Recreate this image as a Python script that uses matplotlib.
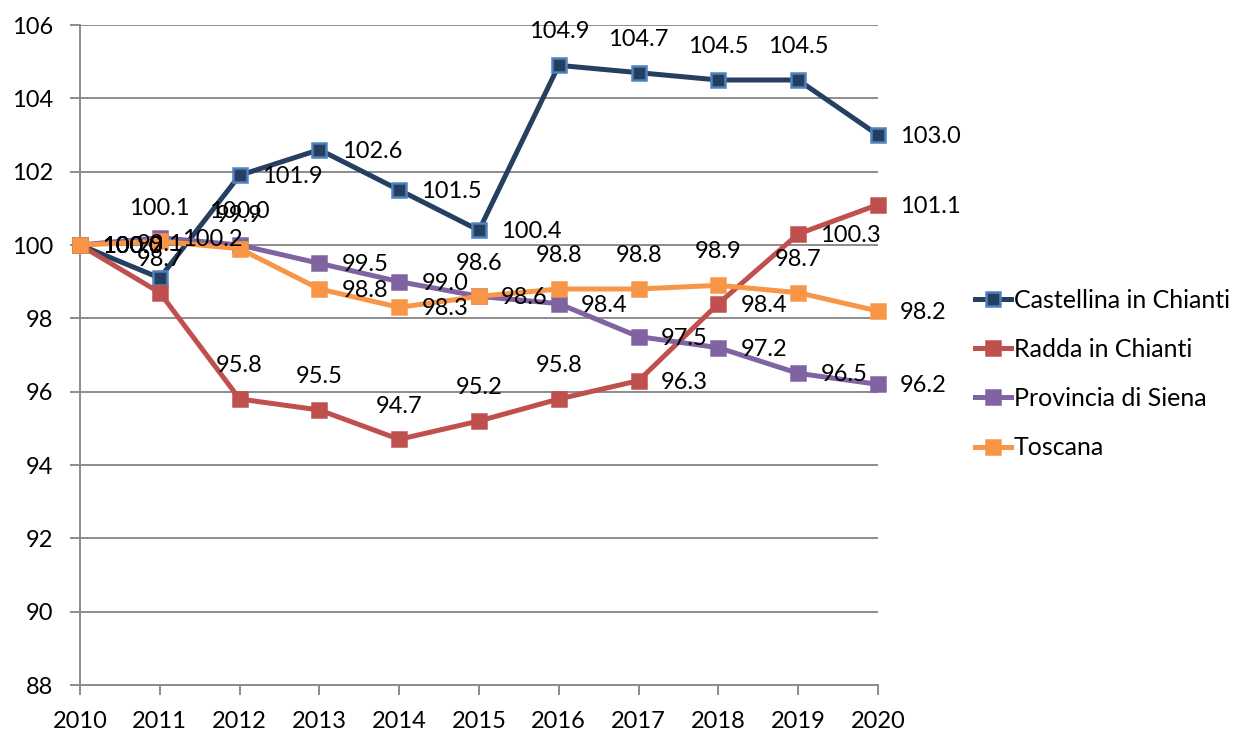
import matplotlib
matplotlib.use("Agg")
import matplotlib.pyplot as plt

plt.rcParams['font.family'] = ['Lato', 'DejaVu Sans']

years = list(range(2010, 2021))
castellina = [100.0, 99.1, 101.9, 102.6, 101.5, 100.4, 104.9, 104.7, 104.5, 104.5, 103.0]
radda = [100.0, 98.7, 95.8, 95.5, 94.7, 95.2, 95.8, 96.3, 98.4, 100.3, 101.1]
provincia = [100.0, 100.2, 100.0, 99.5, 99.0, 98.6, 98.4, 97.5, 97.2, 96.5, 96.2]
toscana = [100.0, 100.1, 99.9, 98.8, 98.3, 98.6, 98.8, 98.8, 98.9, 98.7, 98.2]
names = ["Castellina in Chianti", "Radda in Chianti", "Provincia di Siena", "Toscana"]

# where each value label goes: r = right of the point, a = above it
place = [
    "rarrrraaaar",
    "raaaaaarrrr",
    "rrarrrrrrrr",
    "raarraaaaar",
]

line_col = ["#243f60", "#c0504d", "#8064a2", "#f79646"]
face_col = ["#243f60", "#c0504d", "#8064a2", "#f79646"]
edge_col = ["#4f81bd", "#c0504d", "#8064a2", "#f79646"]

fig = plt.figure(figsize=(12.4, 7.33), dpi=100)
ax = fig.add_axes([80/1240, 1 - 685/733, (878-80)/1240, (685-25)/733])

series = [castellina, radda, provincia, toscana]
for i, vals in enumerate(series):
    ax.plot(years, vals, color=line_col[i], lw=3.6, marker='s', ms=10,
            mfc=face_col[i], mec=edge_col[i], mew=1.8, label=names[i],
            clip_on=False, zorder=3 + i)

for i, vals in enumerate(series):
    for x, v, p in zip(years, vals, place[i]):
        if p == "r":
            ax.annotate(f"{v:.1f}", (x, v), xytext=(16, -1), textcoords="offset points",
                        ha="left", va="center", fontsize=17, zorder=10)
        else:
            ax.annotate(f"{v:.1f}", (x, v), xytext=(0, 24), textcoords="offset points",
                        ha="center", va="center", fontsize=17, zorder=10)

ax.set_xlim(2010, 2020)
ax.set_ylim(88, 106)
ax.set_xticks(years)
ax.set_yticks(range(88, 107, 2))
ax.grid(axis='y', color='#8c8c8c', lw=1.4)
ax.set_axisbelow(True)
for s in ['top', 'right']:
    ax.spines[s].set_visible(False)
for s in ['left', 'bottom']:
    ax.spines[s].set_color('#8c8c8c')
    ax.spines[s].set_linewidth(1.4)
ax.tick_params(axis='both', colors='#8c8c8c', width=1.4, length=7, labelsize=17,
               labelcolor='black')
ax.tick_params(axis='y', pad=12)
ax.tick_params(axis='x', pad=12)

fig.legend(loc='center left', bbox_to_anchor=(975/1240, 1 - 374/733), frameon=False,
           fontsize=18, handlelength=1.45, handletextpad=0.1, labelspacing=1.05,
           borderpad=0, borderaxespad=0)

fig.savefig("out.png", dpi=100)
